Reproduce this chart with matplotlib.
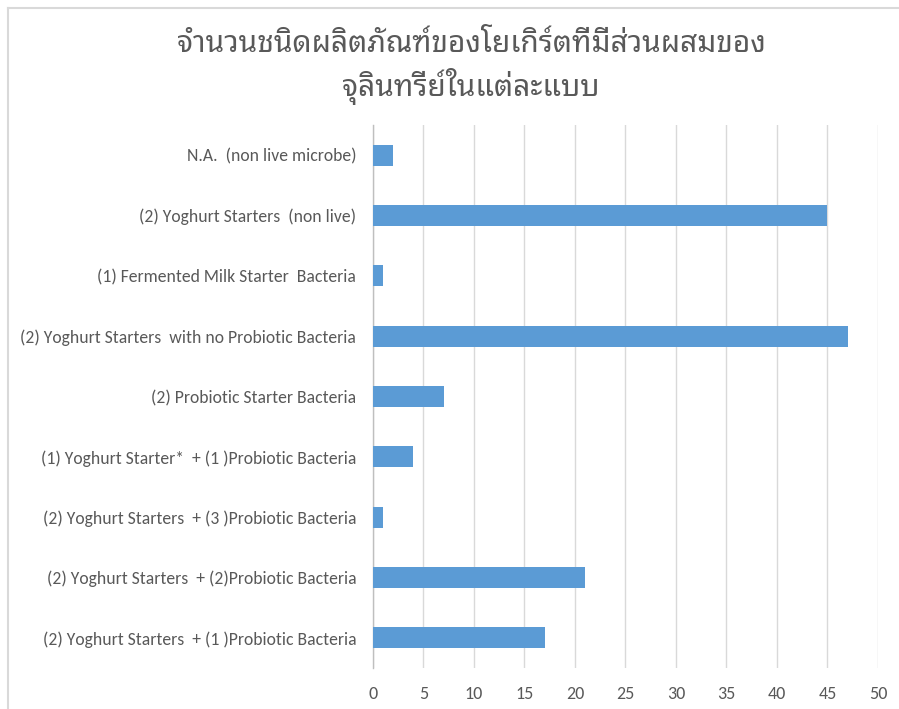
import matplotlib
matplotlib.use("Agg")
import matplotlib.pyplot as plt
from matplotlib import font_manager
from matplotlib.lines import Line2D

# Data (bottom to top)
categories = [
    "(2) Yoghurt Starters  + (1 )Probiotic Bacteria",
    "(2) Yoghurt Starters  + (2)Probiotic Bacteria",
    "(2) Yoghurt Starters  + (3 )Probiotic Bacteria",
    "(1) Yoghurt Starter*  + (1 )Probiotic Bacteria",
    "(2) Probiotic Starter Bacteria",
    "(2) Yoghurt Starters  with no Probiotic Bacteria",
    "(1) Fermented Milk Starter  Bacteria",
    "(2) Yoghurt Starters  (non live)",
    "N.A.  (non live microbe)",
]
counts = [17, 21, 1, 4, 7, 47, 1, 45, 2]
x_ticks = [0, 5, 10, 15, 20, 25, 30, 35, 40, 45, 50]
title = "จำนวนชนิดผลิตภัณฑ์ของโยเกิร์ตที่มีส่วนผสมของ\nจุลินทรีย์ในแต่ละแบบ"

available = {f.name for f in font_manager.fontManager.ttflist}


def pick(*names):
    for n in names:
        if n in available:
            return n
    return "DejaVu Sans"


latin_font = pick("Carlito", "Lato", "Open Sans")
thai_font = pick("Noto Sans Thai Looped", "Noto Sans Thai", "Sarabun", "Anuphan")

text_color = "#595959"
bar_color = "#5b9bd5"
grid_color = "#d9d9d9"

fig = plt.figure(figsize=(8.99, 7.09), dpi=100)
ax = fig.add_axes([0.4149, 0.0578, 0.5617, 0.7659])

ax.barh(range(len(categories)), counts, height=0.35, color=bar_color, zorder=3)

ax.set_xlim(0, 50)
ax.set_ylim(-0.5, len(categories) - 0.5)
ax.set_xticks(x_ticks)
ax.set_xticklabels([str(t) for t in x_ticks], fontfamily=latin_font,
                   fontsize=13, color=text_color)
ax.tick_params(axis="both", length=0)
ax.set_yticks(range(len(categories)))
ax.set_yticklabels(categories, fontfamily=latin_font, fontsize=12.7,
                   color=text_color)
ax.tick_params(axis="x", pad=13)
ax.tick_params(axis="y", pad=12)

ax.grid(axis="x", color=grid_color, linewidth=1, zorder=0)
for side in ("top", "right", "bottom"):
    ax.spines[side].set_visible(False)
ax.spines["left"].set_color("#bfbfbf")
ax.spines["left"].set_linewidth(1)

fig.text(0.524, 0.905, title, ha="center", va="center", fontfamily=thai_font,
         fontsize=21.5, color=text_color, linespacing=1.3)

# light frame along the top and left of the chart area
fig.add_artist(Line2D([0.009, 1.0], [0.989, 0.989], transform=fig.transFigure,
                      color="#d9d9d9", linewidth=1.5))
fig.add_artist(Line2D([0.009, 0.009], [0.0, 0.989], transform=fig.transFigure,
                      color="#d9d9d9", linewidth=1.5))

fig.savefig("out.png")
